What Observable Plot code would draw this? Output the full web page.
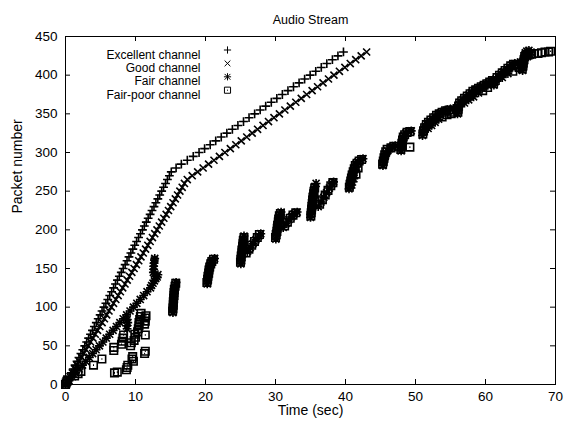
<!DOCTYPE html>
<html><head><meta charset="utf-8">
<script src="https://cdn.jsdelivr.net/npm/d3@7"></script>
<script src="https://cdn.jsdelivr.net/npm/@observablehq/plot@0.6"></script>
<style>
html,body{margin:0;padding:0;background:#fff;}
#chart{width:564px;height:430px;}
</style></head><body><div id="chart"></div>
<script>
const title = "Audio Stream";
const xLabel = "Time (sec)";
const yLabel = "Packet number";
const xTicks = [0, 10, 20, 30, 40, 50, 60, 70];
const yTicks = [0, 50, 100, 150, 200, 250, 300, 350, 400, 450];
const seriesNames = ["Excellent channel", "Good channel", "Fair channel", "Fair-poor channel"];

// [time (sec), packet number]
const excellent = [[0,0],[0.27,5],[0.55,10],[0.82,15],[1.10,20],[1.37,25],[1.65,30],[1.92,35],[2.20,40],[2.47,45],[2.75,50],[3.02,55],[3.30,60],[3.57,65],[3.85,70],[4.12,75],[4.40,80],[4.67,85],[4.95,90],[5.22,95],[5.49,100],[5.77,105],[6.04,110],[6.32,115],[6.59,120],[6.87,125],[7.14,130],[7.42,135],[7.69,140],[7.97,145],[8.24,150],[8.52,155],[8.79,160],[9.07,165],[9.34,170],[9.62,175],[9.89,180],[10.16,185],[10.44,190],[10.71,195],[10.99,200],[11.26,205],[11.54,210],[11.81,215],[12.09,220],[12.36,225],[12.64,230],[12.91,235],[13.19,240],[13.46,245],[13.74,250],[14.01,255],[14.29,260],[14.56,265],[14.84,270],[15.11,275],[15.80,280],[16.55,285],[17.40,290],[18.25,295],[19.08,300],[19.87,305],[20.67,310],[21.46,315],[22.25,320],[23.05,325],[23.84,330],[24.63,335],[25.43,340],[26.22,345],[27.02,350],[27.81,355],[28.60,360],[29.40,365],[30.19,370],[30.98,375],[31.78,380],[32.57,385],[33.37,390],[34.16,395],[34.95,400],[35.75,405],[36.54,410],[37.33,415],[38.13,420],[38.92,425],[39.71,430]];

const good = [[0,0],[0.33,5],[0.65,10],[0.98,15],[1.31,20],[1.63,25],[1.96,30],[2.29,35],[2.61,40],[2.94,45],[3.27,50],[3.59,55],[3.92,60],[4.25,65],[4.58,70],[4.90,75],[5.23,80],[5.56,85],[5.88,90],[6.21,95],[6.54,100],[6.86,105],[7.19,110],[7.52,115],[7.84,120],[8.17,125],[8.50,130],[8.82,135],[9.15,140],[9.48,145],[9.80,150],[10.13,155],[10.46,160],[10.78,165],[11.11,170],[11.44,175],[11.76,180],[12.09,185],[12.42,190],[12.75,195],[13.07,200],[13.40,205],[13.73,210],[14.05,215],[14.38,220],[14.71,225],[15.03,230],[15.36,235],[15.69,240],[16.01,245],[16.34,250],[16.67,255],[16.99,260],[17.40,265],[18.10,270],[18.88,275],[19.66,280],[20.44,285],[21.21,290],[21.99,295],[22.77,300],[23.55,305],[24.33,310],[25.11,315],[25.89,320],[26.67,325],[27.44,330],[28.22,335],[29.00,340],[29.78,345],[30.56,350],[31.34,355],[32.12,360],[32.90,365],[33.68,370],[34.45,375],[35.23,380],[36.01,385],[36.79,390],[37.57,395],[38.35,400],[39.13,405],[39.91,410],[40.68,415],[41.46,420],[42.24,425],[43.02,430]];

const fair = [[0,0],[0.49,5],[0.97,10],[1.46,15],[1.94,20],[2.43,25],[2.91,30],[3.40,35],[3.88,40],[4.37,45],[4.85,50],[5.34,55],[5.83,60],[6.31,65],[6.80,70],[7.28,75],[7.77,80],[8.25,85],[8.74,90],[9.22,95],[9.71,100],[10.19,105],[10.68,110],[11.17,115],[11.65,120],[12.14,125],
[8.8,72],[8.75,76],[8.9,80],[8.8,84],
[12.3,128],[12.5,131],[12.7,134],[12.9,137],[13.1,139],[13.2,142],[12.8,140],[12.55,145],[12.6,149],[12.6,153],[12.65,157],[12.7,161],[12.75,163],
[15.35,93],[15.35,97],[15.4,101],[15.4,105],[15.45,109],[15.45,113],[15.5,117],[15.55,121],[15.6,125],[15.7,129],[15.8,132],
[20.25,130],[20.3,134],[20.35,138],[20.4,142],[20.5,146],[20.55,150],[20.65,154],[20.8,158],[21.0,161],[21.3,163],
[25.05,156],[25.1,160],[25.1,164],[25.15,168],[25.2,172],[25.25,176],[25.3,180],[25.35,184],[25.4,188],[25.5,192],[26.0,172],[26.4,177],[26.8,182],[27.2,187],[27.6,192],[27.9,195],
[30.05,188],[30.1,192],[30.15,196],[30.2,200],[30.3,204],[30.35,208],[30.4,212],[30.5,216],[30.6,220],[30.8,223],[31.1,203],[31.5,208],[31.9,213],[32.3,217],[32.7,221],[33.1,223],
[35.0,216],[35.05,220],[35.1,224],[35.15,228],[35.2,232],[35.25,236],[35.3,240],[35.35,244],[35.4,248],[35.5,252],[35.6,256],[35.8,260],[36.1,230],[36.5,236],[36.9,242],[37.3,248],[37.7,254],[38.1,260],[38.3,262],
[40.5,253],[40.6,257],[40.7,261],[40.8,265],[40.9,269],[41.0,273],[41.15,277],[41.3,281],[41.5,285],[41.8,288],[42.1,290],[42.5,292],[40.9,258],[41.2,266],
[45.35,283],[45.45,287],[45.55,291],[45.65,295],[45.8,299],[46.0,302],[46.3,305],[46.7,307],[47.1,309],
[47.95,302],[48.0,306],[48.05,310],[48.1,314],[48.2,318],[48.35,322],[48.6,325],[48.95,327],[49.4,328],
[51.0,322],[51.1,326],[51.2,330],[51.4,334],[51.7,337],[52.0,340],[52.4,343],[52.8,346],[53.2,349],[53.6,351],[54.0,353],[54.5,355],[55.0,356],[55.4,357],[51.8,331],[52.3,335],[52.8,339],[53.3,343],
[56.0,350],[56.05,354],[56.1,358],[56.2,362],[56.4,365],[56.8,368],[57.2,371],[57.6,374],[58.0,377],[58.4,380],[58.8,382],[59.2,384],[59.6,386],[60.0,388],[60.4,390],[60.8,392],[57.0,364],[57.6,368],[58.3,372],[59.0,377],
[61.2,387],[61.3,391],[61.5,395],[61.8,398],[62.2,401],[62.6,404],[63.0,407],[63.4,410],[63.8,413],[64.2,415],[64.6,416],[65.0,417],[62.4,397],[63.2,402],
[65.3,406],[65.35,410],[65.4,414],[65.45,418],[65.5,422],[65.6,426],[65.7,429],[65.9,431],[66.2,432],[66.5,430],[66.0,424],[66.4,426]];

const fairPoor = [[0,0],[0.1,2],[0.2,4],[0.3,6],[1.3,11],[1.8,14],[2.2,17],[4.0,25],[5.2,33],
[7.0,15],[7.4,16],[8.7,19],[8.8,22],[8.9,25],[9.5,33],[9.6,36],[9.7,30],[11.3,40],[11.4,43],
[6.9,44],[6.9,48],[8.0,52],[8.1,56],[8.2,60],[8.3,64],[9.3,50],[9.4,54],[9.8,57],[10.0,61],[9.9,65],
[10.3,68],[10.4,72],[10.5,76],[10.5,80],[10.6,84],[10.7,88],[10.8,92],[11.3,78],[11.4,82],[11.4,86],[11.5,89],[11.4,64],
[15.3,95],[15.35,99],[15.4,103],[15.4,107],[15.45,111],[15.5,115],[15.5,119],[15.55,123],[15.65,127],[15.75,131],
[20.2,132],[20.3,136],[20.35,140],[20.45,144],[20.5,148],[20.6,152],[20.75,156],[20.9,159],[21.15,162],
[25.0,158],[25.05,162],[25.1,166],[25.2,170],[25.2,174],[25.3,178],[25.35,182],[25.4,186],[25.5,190],[25.8,170],[26.2,175],[26.6,180],[27.0,185],[27.4,190],[27.7,194],
[30.0,190],[30.1,194],[30.2,198],[30.25,202],[30.3,206],[30.4,210],[30.45,214],[30.55,218],[30.7,221],[31.3,205],[31.7,210],[32.1,215],[32.5,219],[32.9,222],
[35.05,218],[35.1,222],[35.15,226],[35.2,230],[35.25,234],[35.3,238],[35.35,242],[35.45,246],[35.5,250],[35.6,254],[36.3,233],[36.7,239],[37.1,245],[37.5,251],[37.9,257],[38.2,261],
[40.55,255],[40.65,259],[40.75,263],[40.85,267],[40.95,271],[41.1,275],[41.25,279],[41.4,283],[41.65,286],[41.95,289],[42.3,291],[41.5,272],[41.8,280],
[45.3,285],[45.4,289],[45.5,293],[45.6,297],[45.75,301],[45.95,304],[46.5,306],[46.9,308],
[47.9,304],[48.0,308],[48.05,312],[48.15,316],[48.25,320],[48.45,323],[48.8,326],[49.2,327],[49.2,307],
[51.05,324],[51.15,328],[51.3,332],[51.55,336],[51.85,339],[52.2,342],[52.6,345],[53.0,348],[53.4,350],[53.8,352],[54.3,354],[54.8,355],[55.3,352],[53.8,346],[54.5,349],[55.1,350],
[56.05,352],[56.1,356],[56.15,360],[56.3,364],[56.6,367],[57.0,370],[57.4,373],[57.8,376],[58.2,379],[58.6,381],[59.0,383],[59.4,385],[59.8,387],[60.2,389],[60.6,391],[61.0,393],[59.6,380],[60.3,384],
[61.15,389],[61.4,393],[61.65,397],[62.0,400],[62.4,403],[62.8,406],[63.2,409],[63.6,412],[64.0,414],[64.4,413],[64.8,410],[63.9,405],
[65.25,408],[65.35,412],[65.4,416],[65.5,420],[65.6,424],[65.8,427],[66.1,426],[66.6,427],[67.0,428],[67.5,428],[68.0,429],[68.5,430],[69.0,430],[69.3,431]];

const W = 564, H = 430, mt = 36, mb = 46, ml = 65, mr = 9;
const pw = W - ml - mr, ph = H - mt - mb;
const FONT = "'Liberation Sans', Arial, Helvetica, sans-serif";

function makeSymbols(R) {
  const plus = {draw(c) { c.moveTo(-R, 0); c.lineTo(R, 0); c.moveTo(0, -R); c.lineTo(0, R); }};
  const times = {draw(c) { const r = R * 0.8; c.moveTo(-r, -r); c.lineTo(r, r); c.moveTo(-r, r); c.lineTo(r, -r); }};
  const star = {draw(c) { plus.draw(c); times.draw(c); }};
  const box = {draw(c) { const r = R * 0.85; c.moveTo(-r, -r); c.lineTo(r, -r); c.lineTo(r, r); c.lineTo(-r, r); c.closePath(); c.moveTo(-0.5, 0); c.lineTo(0.5, 0); }};
  return [plus, times, star, box];
}
const dataSymbols = makeSymbols(4.4);
const legendSymbols = makeSymbols(3.6);
const seriesData = [excellent, good, fair, fairPoor];

const pointMark = (data, sym) => Plot.dot(data, {x: d => d[0], y: d => d[1], symbol: sym, stroke: "black", fill: "none", strokeWidth: 1.6});

const legendMarks = seriesNames.flatMap((name, i) => [
  Plot.text([name], {frameAnchor: "top-left", dx: 135, dy: 13.5 + 13.4 * i, text: d => d, textAnchor: "end", fontSize: 12, fill: "black"}),
  Plot.dot([name], {frameAnchor: "top-left", dx: 162, dy: 13.5 + 13.4 * i, symbol: legendSymbols[i], stroke: "black", fill: "none", strokeWidth: 1})
]);

const chart = Plot.plot({
  width: W, height: H,
  marginTop: mt, marginBottom: mb, marginLeft: ml, marginRight: mr,
  style: {fontFamily: FONT, fontSize: "13.5px", background: "white", color: "black"},
  x: {domain: [0, 70]},
  y: {domain: [0, 450]},
  marks: [
    Plot.axisX({ticks: xTicks, tickSize: 0, tickPadding: 7, label: null, fontSize: 13.5}),
    Plot.axisY({ticks: yTicks, tickSize: 0, tickPadding: 8, label: null, fontSize: 13.5}),
    Plot.ruleX(xTicks, {x: d => d, insetTop: ph - 5, stroke: "black"}),
    Plot.ruleX(xTicks, {x: d => d, insetBottom: ph - 5, stroke: "black"}),
    Plot.ruleY(yTicks, {y: d => d, insetRight: pw - 5, stroke: "black"}),
    Plot.ruleY(yTicks, {y: d => d, insetLeft: pw - 5, stroke: "black"}),
    Plot.frame({stroke: "black"}),
    ...seriesData.map((d, i) => pointMark(d, dataSymbols[i])),
    ...legendMarks,
    Plot.text([title], {frameAnchor: "top", dy: -21, text: d => d, fontSize: 12.5, fill: "black"}),
    Plot.text([xLabel], {frameAnchor: "bottom", dy: 30, text: d => d, fontSize: 14, fill: "black"}),
    Plot.text([yLabel], {frameAnchor: "left", dx: -48, dy: 3, rotate: -90, text: d => d, fontSize: 14, fill: "black"})
  ]
});
document.getElementById("chart").appendChild(chart);
</script></body></html>
